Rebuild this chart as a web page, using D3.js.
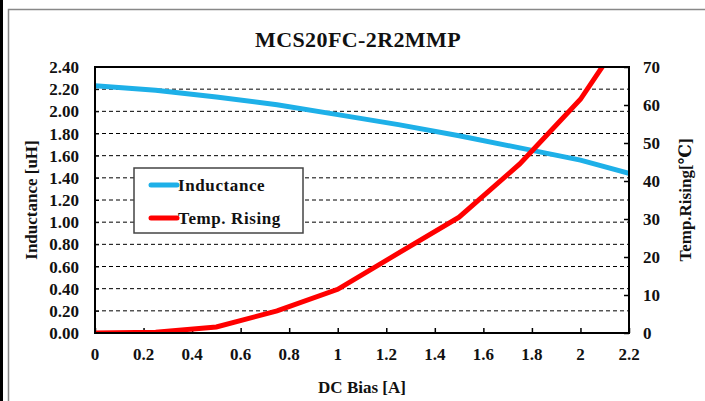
<!DOCTYPE html>
<html>
<head>
<meta charset="utf-8">
<script src="https://cdn.jsdelivr.net/npm/d3@7"></script>
<style>
  body { margin: 0; background: #fff; }
</style>
</head>
<body>
<div id="chart"></div>
<script>
// DC bias points (A)
const biasL = [0, 0.25, 0.5, 0.75, 1, 1.25, 1.5, 1.75, 2, 2.2];
const inductance = [2.23, 2.19, 2.13, 2.06, 1.97, 1.88, 1.78, 1.67, 1.56, 1.44];
const biasT = [0, 0.25, 0.5, 0.75, 1, 1.25, 1.5, 1.75, 2, 2.1];
const tempRise = [0, 0.2, 1.6, 5.8, 11.5, 21, 30.5, 44.5, 61.5, 71];

const xTicks = [0, 0.2, 0.4, 0.6, 0.8, 1, 1.2, 1.4, 1.6, 1.8, 2, 2.2];
const yLTicks = [0, 0.2, 0.4, 0.6, 0.8, 1, 1.2, 1.4, 1.6, 1.8, 2, 2.2, 2.4];
const yRTicks = [0, 10, 20, 30, 40, 50, 60, 70];

const W = 705, H = 401;
const plot = { left: 95, top: 67, right: 629, bottom: 333 };
const FONT = "'Liberation Serif', 'DejaVu Serif', serif";

const svg = d3.select("#chart").append("svg")
  .attr("width", W).attr("height", H);

// outer frame
svg.append("rect").attr("x", 0).attr("y", 0).attr("width", 3).attr("height", H).attr("fill", "#000");
svg.append("rect").attr("x", 8.5).attr("y", 9.5).attr("width", 720).attr("height", 420)
  .attr("fill", "none").attr("stroke", "#888").attr("stroke-width", 1.5);

const x = d3.scaleLinear().domain([0, 2.2]).range([plot.left, plot.right]);
const yL = d3.scaleLinear().domain([0, 2.4]).range([plot.bottom, plot.top]);
const yR = d3.scaleLinear().domain([0, 70]).range([plot.bottom, plot.top]);

// grid lines
svg.append("g").selectAll("line")
  .data(yLTicks.slice(1, -1))
  .join("line")
  .attr("x1", plot.left).attr("x2", plot.right)
  .attr("y1", d => yL(d)).attr("y2", d => yL(d))
  .attr("stroke", "#000").attr("stroke-width", 1)
  .attr("stroke-dasharray", "4,3");

// axes (inward ticks)
svg.append("g")
  .attr("transform", `translate(0,${plot.bottom})`)
  .call(d3.axisTop(x).tickValues(xTicks).tickSize(5).tickFormat(""))
  .call(g => g.select(".domain").remove())
  .call(g => g.selectAll("line").attr("stroke-width", 1.5));

svg.append("g")
  .attr("transform", `translate(${plot.left},0)`)
  .call(d3.axisRight(yL).tickValues(yLTicks).tickSize(4).tickFormat(""))
  .call(g => g.select(".domain").remove());

svg.append("g")
  .attr("transform", `translate(${plot.right},0)`)
  .call(d3.axisLeft(yR).tickValues(yRTicks).tickSize(5).tickFormat(""))
  .call(g => g.select(".domain").remove())
  .call(g => g.selectAll("line").attr("stroke-width", 1.5));

// all text goes in this group with a serif bold font
const txt = svg.append("g")
  .attr("font-family", FONT).attr("font-weight", "bold").attr("fill", "#111");

// tick labels
txt.append("g").selectAll("text")
  .data(xTicks).join("text")
  .attr("x", d => x(d)).attr("y", 360)
  .attr("text-anchor", "middle").attr("font-size", 17)
  .text(d => d);

txt.append("g").selectAll("text")
  .data(yLTicks).join("text")
  .attr("x", 79).attr("y", d => yL(d) + 6)
  .attr("text-anchor", "end").attr("font-size", 17)
  .text(d => d.toFixed(2));

txt.append("g").selectAll("text")
  .data(yRTicks).join("text")
  .attr("x", 643).attr("y", d => yR(d) + 6)
  .attr("text-anchor", "start").attr("font-size", 17)
  .text(d => d);

// clip for the series
svg.append("clipPath").attr("id", "clip")
  .append("rect").attr("x", plot.left).attr("y", plot.top)
  .attr("width", plot.right - plot.left).attr("height", plot.bottom - plot.top);

const lineL = d3.line().x((d, i) => x(biasL[i])).y(d => yL(d));
const lineT = d3.line().x((d, i) => x(biasT[i])).y(d => yR(d));

svg.append("path").datum(inductance)
  .attr("d", lineL).attr("fill", "none")
  .attr("stroke", "#1EB0E8").attr("stroke-width", 5)
  .attr("clip-path", "url(#clip)");

svg.append("path").datum(tempRise)
  .attr("d", lineT).attr("fill", "none")
  .attr("stroke", "#FF0000").attr("stroke-width", 5)
  .attr("clip-path", "url(#clip)");

// plot frame
svg.append("rect")
  .attr("x", plot.left).attr("y", plot.top)
  .attr("width", plot.right - plot.left).attr("height", plot.bottom - plot.top)
  .attr("fill", "none").attr("stroke", "#000").attr("stroke-width", 2);

// titles
txt.append("text").attr("x", 358).attr("y", 47)
  .attr("text-anchor", "middle").attr("font-size", 22).attr("letter-spacing", 0.4)
  .text("MCS20FC-2R2MMP");

txt.append("text").attr("x", 362).attr("y", 393)
  .attr("text-anchor", "middle").attr("font-size", 17)
  .text("DC Bias [A]");

txt.append("text")
  .attr("transform", "translate(37,200) rotate(-90)")
  .attr("text-anchor", "middle").attr("font-size", 17)
  .text("Inductance [uH]");

txt.append("text")
  .attr("transform", "translate(691,200) rotate(-90)")
  .attr("text-anchor", "middle").attr("font-size", 17)
  .text("Temp.Rising[℃]");

// legend
const legend = svg.append("g");
legend.append("rect")
  .attr("x", 134).attr("y", 168).attr("width", 169).attr("height", 65)
  .attr("fill", "#fff").attr("stroke", "#444").attr("stroke-width", 1.5);

const legendItems = [
  { label: "Inductance", color: "#1EB0E8", y: 185 },
  { label: "Temp. Rising", color: "#FF0000", y: 218 }
];
legend.selectAll("line").data(legendItems).join("line")
  .attr("x1", 151).attr("x2", 177)
  .attr("y1", d => d.y).attr("y2", d => d.y)
  .attr("stroke", d => d.color).attr("stroke-width", 5)
  .attr("stroke-linecap", "round");
legend.selectAll("text").data(legendItems).join("text")
  .attr("x", 178).attr("y", d => d.y + 6)
  .attr("font-family", FONT).attr("font-weight", "bold").attr("fill", "#111")
  .attr("font-size", 17).attr("letter-spacing", 0.6)
  .text(d => d.label);
</script>
</body>
</html>
